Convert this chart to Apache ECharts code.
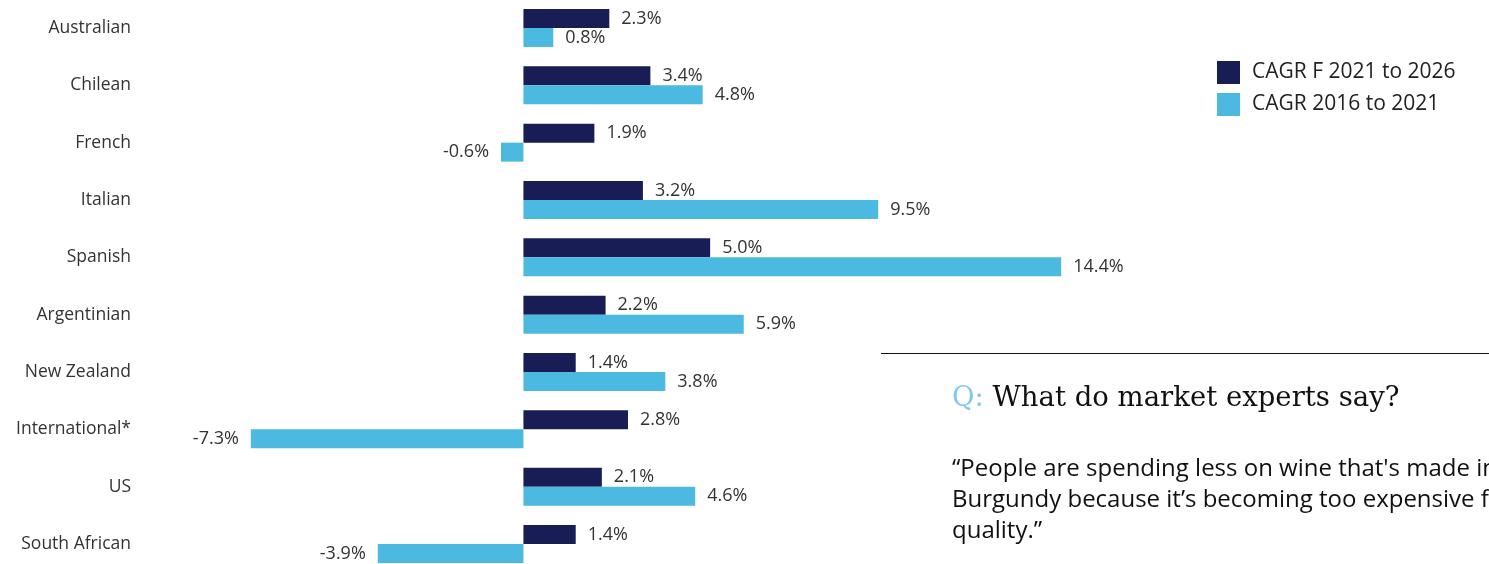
<!DOCTYPE html>
<html>
<head>
<meta charset="utf-8">
<script src="https://cdn.jsdelivr.net/npm/echarts@6/dist/echarts.min.js"></script>
<style>
  html, body { margin: 0; padding: 0; background: #fff; }
  #chart { width: 1489px; height: 564px; }
</style>
</head>
<body>
<div id="chart"></div>
<script>
// Wine origin growth rates (%)
const categories = ['Australian', 'Chilean', 'French', 'Italian', 'Spanish',
  'Argentinian', 'New Zealand', 'International*', 'US', 'South African'];
const forecastName = 'CAGR F 2021 to 2026';
const historicName = 'CAGR 2016 to 2021';
const forecastValues = [2.3, 3.4, 1.9, 3.2, 5.0, 2.2, 1.4, 2.8, 2.1, 1.4];
const historicValues = [0.8, 4.8, -0.6, 9.5, 14.4, 5.9, 3.8, -7.3, 4.6, -3.9];

const navy = '#181d55';
const sky = '#4cb9e0';
const labelFont = 'Open Sans';

// put each value label on the outer end of its bar
function withLabels(values) {
  return values.map(v => ({
    value: v,
    label: { position: v < 0 ? 'left' : 'right' }
  }));
}

const valueLabel = {
  show: true, distance: 12, fontSize: 18, color: '#333',
  fontFamily: labelFont, formatter: p => p.value.toFixed(1) + '%'
};

const chart = echarts.init(document.getElementById('chart'));
chart.setOption({
  animation: false,
  textStyle: { fontFamily: labelFont },
  grid: {
    left: 150, top: -0.7, width: 1307, bottom: -8.7,
    containLabel: false, outerBoundsMode: 'none'
  },
  legend: {
    orient: 'vertical',
    left: 1217,
    top: 61,
    padding: 0,
    itemWidth: 23,
    itemHeight: 23,
    itemGap: 9,
    icon: 'rect',
    textStyle: { fontSize: 21, color: '#222', fontFamily: labelFont, padding: [0, 0, 0, 7] },
    data: [forecastName, historicName]
  },
  xAxis: {
    type: 'value',
    min: -10,
    max: 25,
    show: false,
    splitLine: { show: false }
  },
  yAxis: {
    type: 'category',
    inverse: true,
    data: categories,
    axisLine: { show: false, onZero: false },
    axisTick: { show: false },
    axisLabel: { margin: 19, fontSize: 17.5, color: '#333', fontFamily: labelFont }
  },
  series: [
    {
      name: forecastName,
      type: 'bar',
      barWidth: 19,
      barGap: '0%',
      itemStyle: { color: navy },
      label: valueLabel,
      data: withLabels(forecastValues)
    },
    {
      name: historicName,
      type: 'bar',
      barWidth: 19,
      barGap: '0%',
      itemStyle: { color: sky },
      label: valueLabel,
      data: withLabels(historicValues)
    }
  ],
  graphic: [
    {
      type: 'line',
      shape: { x1: 881, y1: 353.5, x2: 1489, y2: 353.5 },
      style: { stroke: '#111', lineWidth: 1 }
    },
    {
      type: 'text',
      left: 952,
      top: 385,
      style: {
        text: '{q|Q:} What do market experts say?',
        font: '27.5px "DejaVu Serif"',
        fill: '#111',
        rich: {
          q: { fill: '#7fcbe9', font: '27.5px "DejaVu Serif"' }
        }
      }
    },
    {
      type: 'text',
      left: 952,
      top: 454,
      style: {
        text: '“People are spending less on wine that\'s made in\nBurgundy because it’s becoming too expensive for\nquality.”',
        font: '24px "Open Sans"',
        lineHeight: 31,
        fill: '#111'
      }
    }
  ]
});
</script>
</body>
</html>
